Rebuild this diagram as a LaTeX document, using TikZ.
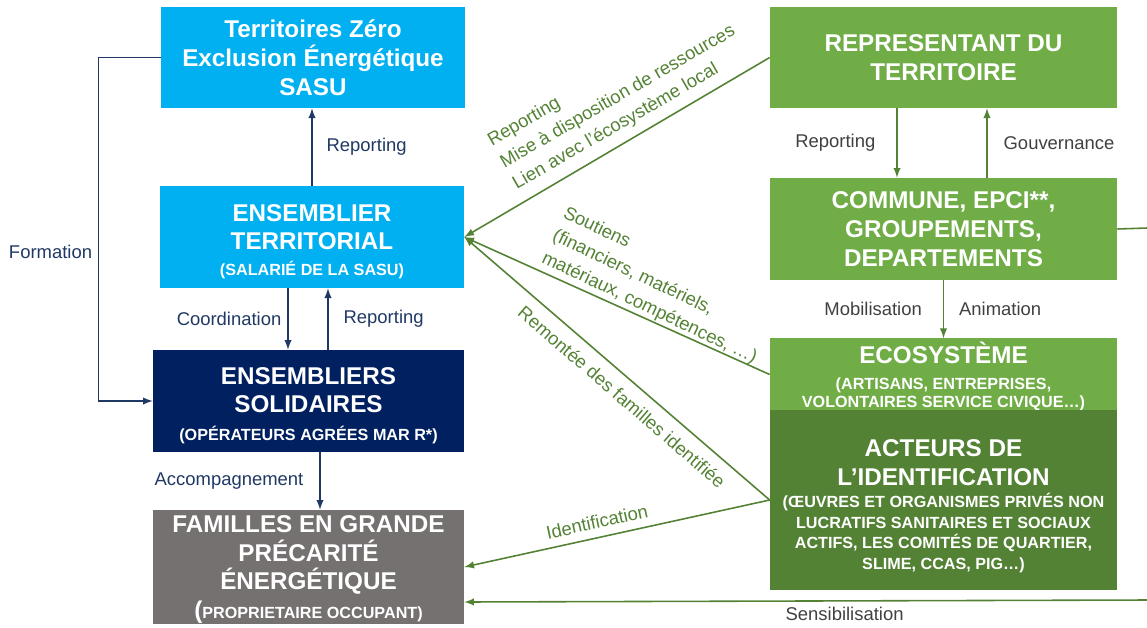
\documentclass[tikz,border=0pt]{standalone}
\usepackage{fontspec}
\setmainfont{Liberation Sans}
\usetikzlibrary{shapes,arrows}
\definecolor{sky}{HTML}{00B0F0}
\definecolor{navy}{HTML}{002060}
\definecolor{navyline}{HTML}{203864}
\definecolor{taupe}{HTML}{767171}
\definecolor{leaf}{HTML}{70AD47}
\definecolor{moss}{HTML}{548235}
\definecolor{labelgray}{HTML}{404040}
\newcommand{\bigtxt}{\fontsize{13.8}{16.4}\selectfont}
\newcommand{\smalltxt}{\fontsize{9.2}{11}\selectfont}
\newcommand{\labtxt}{\fontsize{10.5}{14.2}\selectfont}

\begin{document}
\begin{tikzpicture}[x=0.02cm,y=-0.02cm,>=latex]
\tikzstyle{box} = [rectangle, text=white, align=center, inner sep=0pt, font=\bfseries\bigtxt]
\tikzstyle{navyarrow} = [->, draw=navyline, line width=0.9pt]
\tikzstyle{greenarrow} = [->, draw=moss, line width=0.9pt]
\tikzstyle{navylab} = [text=navyline, font=\labtxt]
\tikzstyle{graylab} = [text=labelgray, font=\labtxt]
\tikzstyle{greenlab} = [text=moss, font=\labtxt]
\useasboundingbox (0,0) rectangle (1147,627);

\node[box, fill=sky, minimum width=6.08cm, minimum height=2.02cm] (tzee) at (313,57.5)
  {Territoires Zéro\\Exclusion Énergétique\\SASU};
\node[box, fill=sky, minimum width=6.08cm, minimum height=2.04cm] (ens) at (312,237)
  {\rule{0pt}{14.5pt}ENSEMBLIER\\TERRITORIAL\\[-2pt]\smalltxt (SALARIÉ DE LA SASU)};
\node[box, fill=navy, minimum width=6.22cm, minimum height=2.04cm] (sol) at (308.5,401)
  {\rule{0pt}{14.5pt}ENSEMBLIERS\\SOLIDAIRES\\[-1pt]\smalltxt (OPÉRATEURS AGRÉES MAR R*)};
\node[box, fill=taupe, minimum width=6.22cm, minimum height=2.28cm] (fam) at (308.5,567)
  {\rule{0pt}{12.5pt}FAMILLES EN GRANDE\\PRÉCARITÉ\\ÉNERGÉTIQUE\\(\smalltxt PROPRIETAIRE OCCUPANT)};

\node[box, fill=leaf, minimum width=6.94cm, minimum height=2.02cm] (rep) at (943.5,57.5)
  {REPRESENTANT DU\\TERRITOIRE};
\node[box, fill=leaf, minimum width=6.94cm, minimum height=2.04cm] (com) at (943.5,229)
  {COMMUNE, EPCI**,\\GROUPEMENTS,\\DEPARTEMENTS};
\node[box, fill=leaf, minimum width=6.94cm, minimum height=1.42cm] (eco) at (943.5,374.5)
  {\rule{0pt}{14.5pt}ECOSYSTÈME\\[-2pt]\smalltxt (ARTISANS, ENTREPRISES,\\[-6.2pt]\smalltxt VOLONTAIRES SERVICE CIVIQUE…)};
\node[box, fill=moss, minimum width=6.94cm, minimum height=3.6cm] (act) at (943.5,500)
  {\rule{0pt}{16.3pt}ACTEURS DE\\L’IDENTIFICATION\\[-3.4pt]\smalltxt (ŒUVRES ET ORGANISMES PRIVÉS NON\\[-4.8pt]\smalltxt LUCRATIFS SANITAIRES ET SOCIAUX\\[-4.8pt]\smalltxt ACTIFS, LES COMITÉS DE QUARTIER,\\[-4.8pt]\smalltxt SLIME, CCAS, PIG…)};

\draw[navyarrow] (ens.north) -- node[navylab, right=0.16cm] (lbrep) {Reporting} (ens.north |- tzee.south);
\draw[navyarrow] ([xshift=-0.48cm]ens.south) -- node[navylab, left] (lbcoord) {Coordination} ([xshift=-0.48cm]ens.south |- sol.north);
\draw[navyarrow] ([xshift=0.32cm]ens.south |- sol.north) -- node[navylab, right=0.18cm] (lbrep2) {Reporting} ([xshift=0.32cm]ens.south);
\draw[navyarrow] ([xshift=0.23cm]sol.south) -- node[navylab, left=0.2cm] (lbacc) {Accompagnement} ([xshift=0.23cm]sol.south |- fam.north);
\draw[navyarrow] (tzee.west) -- ++(-62,0) |- node[navylab, pos=0.283, left] (lbform) {Formation} (sol.west);

\draw[greenarrow] ([xshift=-0.93cm]rep.south) -- node[graylab, left=0.3cm] (lbrep3) {Reporting} ([xshift=-0.93cm]com.north);
\draw[greenarrow] ([xshift=0.87cm]com.north) -- node[graylab, right=0.2cm] (lbgouv) {Gouvernance} ([xshift=0.87cm]rep.south);
\draw[greenarrow] (com.south) -- node[graylab, left=0.3cm] (lbmob) {Mobilisation} node[graylab, right=0.18cm] (lbanim) {Animation} (eco.north);

\draw[greenarrow] (rep.west) -- (ens.east);
\draw[greenarrow] (eco.west) -- (ens.east);
\draw[greenarrow] (act.west) -- (ens.east);
\draw[greenarrow] (act.west) -- (fam.east);
\coordinate (sensin) at (1147,600);
\coordinate (comout) at (1147,228);
\draw[greenarrow] (sensin) -- node[graylab, pos=0.443, below] (lbsens) {Sensibilisation} ([yshift=-0.7cm]fam.east);
\draw[moss, line width=0.9pt] (com.east) -- (comout);

\node[greenlab, rotate=30, align=left] (lbres) at (618,97)
  {Reporting\\Mise à disposition de ressources\\Lien avec l’écosystème local};
\node[greenlab, rotate=-25.5, align=left] (lbsout) at (660,286)
  {Soutiens\\(financiers, matériels,\\matériaux, compétences, …)};
\node[greenlab, rotate=-40.8] (lbrem) at (622,397) {Remontée des familles identifiée};
\node[greenlab, rotate=12.2] (lbid) at (597,522) {Identification};
\end{tikzpicture}
\end{document}
